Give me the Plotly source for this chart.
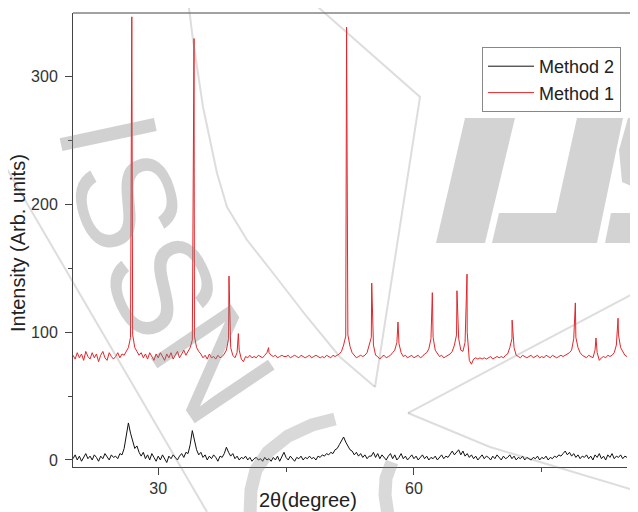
import numpy as np
import plotly.graph_objects as go

# ---------------- data ----------------
X_START = 20.0   # 2theta of first baseline sample
X_STEP = 0.25    # baseline sampling step (degrees)

# Method 1 (red) baseline samples, 20.0 .. 85.0 deg
M1_BASE = [
    82, 79, 84, 80, 83, 78, 85, 81, 79, 84, 80, 83, 77, 82, 85, 80, 78, 84, 81, 79,
    81, 84, 80, 83, 82, 85, 88, 96, 98, 88, 85, 82, 84, 80, 83, 79, 84, 81, 78, 83,
    80, 84, 81, 78, 83, 80, 84, 79, 82, 85, 80, 83, 86, 82, 85, 88, 94, 97, 88, 85,
    83, 80, 82, 79, 83, 80, 81, 79, 82, 80, 81, 83, 86, 95, 88, 82, 80, 84, 86, 79,
    77, 81, 80, 82, 80, 81, 80, 82, 81, 80, 82, 84, 84, 82, 81, 82, 80, 81, 82, 81,
    81, 82, 80, 81, 82, 81, 80, 82, 81, 80, 81, 82, 80, 81, 82, 81, 80, 81, 80, 82,
    81, 80, 82, 81, 82, 83, 85, 90, 97, 98, 89, 84, 82, 80, 81, 82, 81, 82, 84, 90,
    96, 90, 82, 81, 79, 81, 82, 80, 81, 82, 84, 86, 92, 91, 84, 81, 82, 80, 81, 82,
    80, 81, 82, 80, 81, 83, 84, 87, 95, 96, 86, 83, 81, 82, 80, 81, 82, 83, 85, 90,
    98, 95, 86, 85, 92, 100, 78, 75, 79, 80, 79, 80, 79, 80, 79, 80, 81, 79, 80, 81,
    80, 81, 80, 82, 83, 88, 95, 88, 82, 81, 80, 82, 81, 80, 81, 82, 80, 81, 82, 80,
    81, 80, 82, 81, 80, 82, 81, 80, 81, 82, 81, 82, 83, 84, 86, 95, 96, 88, 84, 82,
    81, 80, 82, 81, 80, 86, 84, 78, 80, 81, 80, 82, 81, 82, 84, 90, 98, 88, 85, 82,
    81,
]
# Method 1 sharp reflections
M1_PEAK_POS = [26.9, 34.2, 38.3, 39.4, 42.95, 52.1, 55.05, 58.13, 62.16, 65.05,
               66.23, 71.52, 78.94, 81.36, 83.95]
M1_PEAK_H = [347, 330, 144, 99, 88, 339, 138.5, 108, 131, 132.5,
             145.5, 109.5, 123, 95.5, 111]

# Method 2 (black) samples, 20.0 .. 85.0 deg
M2_BASE = [
    1, 4, 0, 3, -1, 2, 5, 1, 3, 0, 4, 2, -1, 3, 1, 5, 2, 0, 4, 2,
    3, 1, 5, 4, 9, 18, 29, 21, 15, 9, 11, 6, 3, 6, 1, 4, 0, 5, 2, -1,
    3, 0, 4, 1, -2, 3, 1, 4, 2, 0, 3, 5, 2, 6, 5, 12, 23, 14, 8, 4,
    6, 2, 4, 0, 3, 1, 4, 2, -1, 3, 2, 5, 10, 6, 3, 5, 1, 3, 0, 2,
    1, 3, 0, 2, -1, 1, 2, 0, 1, -1, 2, 0, 1, -1, 2, 0, 3, -1, 2, 6,
    2, 0, 3, 1, -1, 2, 1, 3, 0, 2, 1, 3, 1, 2, 0, 3, 2, 4, 3, 5,
    4, 6, 5, 8, 9, 12, 15, 18, 14, 11, 8, 7, 4, 6, 3, 5, 2, 4, 1, 3,
    3, 6, 2, 5, 1, 4, 2, 0, 3, 5, 1, 4, 0, 2, 5, 1, 3, 0, 2, 4,
    1, 3, 0, 2, 4, 1, 3, 0, 2, 1, 3, 0, 2, 4, 1, 3, 2, 5, 7, 4,
    6, 8, 4, 7, 3, 5, 2, 4, 1, 3, 0, 2, 4, 1, 3, 2, 0, 3, 1, 4,
    2, 0, 3, 1, 2, 4, 1, 3, 0, 2, 1, 3, 0, 2, 1, 0, 2, 1, 3, 0,
    2, 1, 3, 0, 2, 1, 3, 2, 4, 3, 5, 7, 4, 6, 3, 5, 2, 4, 1, 3,
    2, 4, 1, 3, 0, 4, 2, 5, 1, 3, 0, 4, 2, 5, 1, 3, 2, 4, 1, 3,
    2,
]

X_TICKS = [30, 60]
X_MINOR = [45, 75]
Y_TICKS = [0, 100, 200, 300]
Y_MINOR = [50, 150, 250]


def build(base, pos=(), h=()):
    xs = X_START + X_STEP * np.arange(len(base))
    pts = sorted(list(zip(xs.tolist(), base)) + list(zip(pos, h)))
    return [p[0] for p in pts], [p[1] for p in pts]


x1, y1 = build(M1_BASE, M1_PEAK_POS, M1_PEAK_H)
x2, y2 = build(M2_BASE)

# ---------------- figure ----------------
# the page body has an 8px margin, so the figure is drawn 8px in/down
OFF = 8
W, H = 638 - OFF, 512 - OFF
L, R, T, B = 73, 627, 13, 467   # plot area in screen pixels


def P(x, y):
    return (x - L) / (R - L), (B - y) / (B - T)


def path(pts, close=True):
    s = ""
    for i, (x, y) in enumerate(pts):
        px, py = P(x, y)
        s += ("M" if i == 0 else "L") + f"{px:.4f},{py:.4f} "
    return s + ("Z" if close else "")


fig = go.Figure()
fig.add_trace(go.Scatter(x=x2, y=y2, mode="lines", name="Method 2",
                         line=dict(color="#111111", width=1)))
fig.add_trace(go.Scatter(x=x1, y=y1, mode="lines", name="Method 1",
                         line=dict(color="#e3262b", width=1)))

FONT = "Liberation Sans, Arial, sans-serif"
axis_common = dict(showgrid=False, zeroline=False, showline=True,
                   linecolor="#444", linewidth=1, ticks="outside", ticklen=7,
                   tickwidth=1, tickcolor="#444",
                   tickfont=dict(family=FONT, size=16, color="#333"))
fig.update_xaxes(range=[20, 85], tickmode="array", tickvals=X_TICKS,
                 minor=dict(tickvals=X_MINOR, ticks="outside", ticklen=4,
                            tickcolor="#444"),
                 **axis_common)
fig.update_yaxes(range=[-5.5, 350], tickmode="array", tickvals=Y_TICKS,
                 minor=dict(tickvals=Y_MINOR, ticks="outside", ticklen=4,
                            tickcolor="#444"),
                 ticklabelstandoff=4, **axis_common)

shapes = []
# top frame line (runs to the image edge)
shapes.append(dict(type="line", xref="paper", yref="paper", x0=0,
                   x1=P(640, 0)[0], y0=1, y1=1,
                   line=dict(color="#444", width=1), layer="above"))
# watermark "IJS" logo
WM = "#d3d3d3"
for poly in [
    [(465, 118), (515, 118), (485, 243), (436, 243)],
    [(577, 118), (623, 118), (597, 243), (492, 243), (499, 213), (556, 213)],
    [(628, 118), (640, 118), (640, 190), (622, 182), (619, 150)],
    [(611, 213), (640, 213), (640, 243), (605, 243)],
]:
    shapes.append(dict(type="path", xref="paper", yref="paper", path=path(poly),
                       fillcolor=WM, line=dict(width=0), layer="below"))
# watermark thin lines
WL = "rgba(120,120,120,0.25)"
for pts in [
    [(0, 157), (207, 512)],
    [(188, 0), (193, 40), (203, 107), (217, 173), (227, 207), (247, 240),
     (273, 273), (307, 317), (340, 357), (375, 387)],
    [(310, 0), (420, 97), (375, 387)],
    [(408, 413), (640, 290)],
    [(408, 413), (490, 447), (640, 492)],
]:
    shapes.append(dict(type="path", xref="paper", yref="paper",
                       path=path(pts, close=False),
                       line=dict(color=WL, width=2), layer="above"))
# watermark thick arcs near the bottom
WA = "rgba(128,128,128,0.30)"
for pts in [
    [(250, 515), (251, 490), (256, 470), (268, 452), (288, 436), (312, 425),
     (335, 419)],
    [(388, 515), (385, 495), (386, 478), (392, 462)],
]:
    shapes.append(dict(type="path", xref="paper", yref="paper",
                       path=path(pts, close=False),
                       line=dict(color=WA, width=13), layer="above"))

annotations = [
    dict(text="Intensity (Arb. units)", x=P(18, 0)[0], y=P(0, 243)[1],
         xref="paper", yref="paper", showarrow=False, textangle=-90,
         xanchor="center", yanchor="middle",
         font=dict(family=FONT, size=20, color="#222")),
    dict(text="2θ(degree)", x=P(308, 0)[0], y=P(0, 500)[1],
         xref="paper", yref="paper", showarrow=False,
         xanchor="center", yanchor="middle",
         font=dict(family=FONT, size=20, color="#222")),
]
# watermark "ISSN" letters
for ch, cx, cy, ang in [("I", 108, 134, 78), ("S", 127, 200, 72),
                        ("S", 162, 285, 64), ("N", 213, 363, 56)]:
    px, py = P(cx, cy)
    annotations.append(dict(text=ch, x=px, y=py, xref="paper", yref="paper",
                            showarrow=False, textangle=ang,
                            xanchor="center", yanchor="middle",
                            font=dict(family=FONT, size=140,
                                      color="rgba(128,128,128,0.36)")))

lx, ly = P(482, 47)
fig.update_layout(
    width=W, height=H,
    margin=dict(l=L - OFF, r=W - (R - OFF), t=T - OFF, b=H - (B - OFF), pad=0),
    paper_bgcolor="white", plot_bgcolor="white",
    showlegend=True,
    legend=dict(x=lx, y=ly, xanchor="left", yanchor="top",
                bgcolor="white", bordercolor="#888", borderwidth=1,
                font=dict(family=FONT, size=18, color="#222"),
                itemwidth=46, tracegroupgap=0),
    shapes=shapes,
    annotations=annotations,
)

fig.write_html("out.html")
